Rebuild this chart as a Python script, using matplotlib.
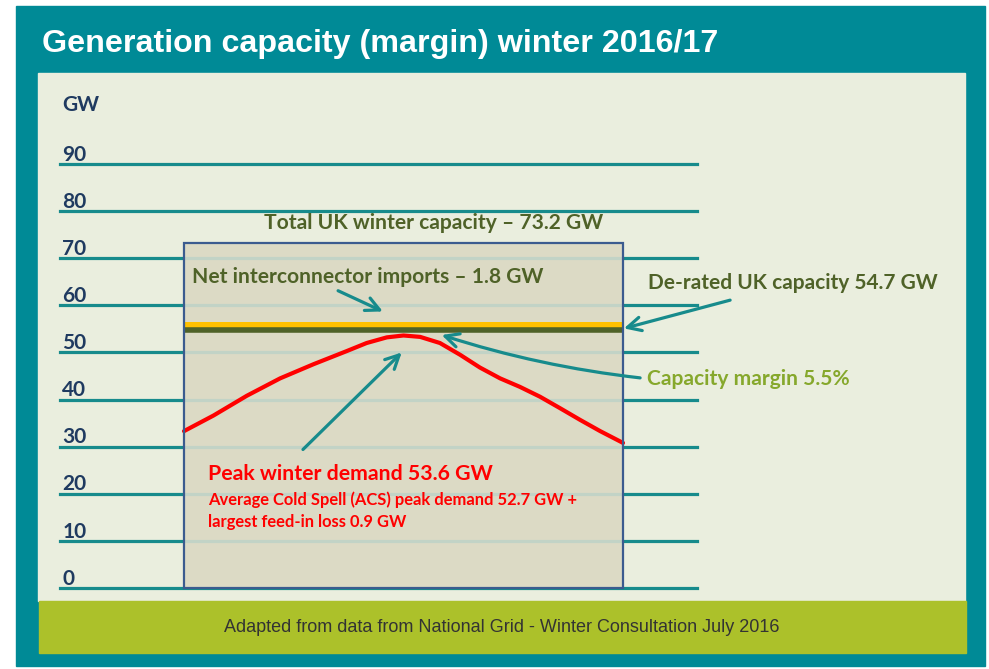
import matplotlib.pyplot as plt
from matplotlib.patches import Rectangle

# capacity figures for winter 2016/17, GW
total_capacity = 73.2
derated_capacity = 54.7
interconnector_imports = 1.8
peak_demand = 53.6
acs_demand = 52.7
feed_in_loss = 0.9
capacity_margin = 5.5

gw_ticks = [0, 10, 20, 30, 40, 50, 60, 70, 80, 90]

# demand profile across the winter (fraction of season, GW)
season = [0.0, 0.067, 0.143, 0.219, 0.295, 0.371, 0.416, 0.462, 0.50, 0.538,
          0.583, 0.629, 0.674, 0.72, 0.765, 0.811, 0.856, 0.902, 0.948, 1.0]
demand = [33.3, 36.6, 40.8, 44.5, 47.5, 50.3, 52.0, 53.2, 53.6, 53.3,
          52.0, 49.5, 46.8, 44.5, 42.7, 40.6, 38.2, 35.7, 33.3, 30.8]

TEAL = '#008a96'
GRID = '#178b8c'
PANEL = '#eaeede'
BAND = '#acc12a'
BOX = '#dcdac5'
NAVY = '#1f3a60'
OLIVE = '#4f6228'
LIME = '#86a82c'
RED = '#ff0000'
LBL = 'Lato'

W, H = 989, 669
fig = plt.figure(figsize=(W / 100, H / 100), dpi=100)
fig.patch.set_facecolor('white')


def frame(x0, y0, x1, y1, color):
    fig.patches.append(Rectangle((x0 / W, 1 - y1 / H), (x1 - x0) / W, (y1 - y0) / H,
                                 transform=fig.transFigure, color=color, zorder=-5))


frame(16, 6, 985, 666, TEAL)
frame(38, 73, 965, 601, PANEL)
frame(39, 601, 966, 653, BAND)

fig.text(42 / W, 1 - 52 / H, 'Generation capacity (margin) winter 2016/17',
         color='white', fontsize=23.2, fontweight='bold', family='Liberation Sans',
         va='baseline')
fig.text(502 / W, 1 - 628 / H,
         'Adapted from data from National Grid - Winter Consultation July 2016',
         color='#333333', fontsize=13, ha='center', va='center', family='Liberation Sans')

# axes: x runs over the winter season (0..1), y in GW
ax = fig.add_axes([60 / W, 1 - 588 / H, 637 / W, (588 - 164) / H])
ax.set_xlim(-124 / 439, 1 + 74 / 439)
ax.set_ylim(0, 90)
ax.axis('off')

for v in gw_ticks:
    ax.axhline(v, color=GRID, lw=2.3, zorder=1, clip_on=False)
    ax.text(-124 / 439 + 0.005, v + 0.7, str(v), color=NAVY, fontsize=15,
            fontweight='bold', family=LBL, va='baseline', ha='left')
ax.text(-124 / 439 + 0.005, 102.5, 'GW', color=NAVY, fontsize=15,
        fontweight='bold', family=LBL, va='center', ha='left')

# total capacity box
ax.add_patch(Rectangle((0, 0), 1, total_capacity, facecolor=BOX, edgecolor='none', zorder=2))
inside = [v for v in gw_ticks if 0 < v < total_capacity]
ax.hlines(inside, 0, 1, color='#c2d3c6', lw=2.3, zorder=3)
ax.add_patch(Rectangle((0, 0), 1, total_capacity, facecolor='none', edgecolor='#3b5b8f',
                       lw=1.6, zorder=6, clip_on=False))

# imports on top of de-rated capacity
ax.fill_between([0, 1], derated_capacity, derated_capacity + interconnector_imports,
                color='#ffc000', lw=0, zorder=4)
ax.plot([0, 1], [derated_capacity, derated_capacity], color=OLIVE, lw=4, zorder=5,
        solid_capstyle='butt')

ax.plot(season, demand, color=RED, lw=3, zorder=5, solid_capstyle='round',
        solid_joinstyle='round')

ax.text(0.568, 77.5, 'Total UK winter capacity \u2013 %.1f GW' % total_capacity,
        color=OLIVE, fontsize=15.1, fontweight='bold', family=LBL, ha='center', va='center')
ax.text(0.018, 66.0, 'Net interconnector imports \u2013 %.1f GW' % interconnector_imports,
        color=OLIVE, fontsize=15.1, fontweight='bold', family=LBL, ha='left', va='center', zorder=7)
ax.text(1.057, 64.8, 'De-rated UK capacity %.1f GW' % derated_capacity,
        color=OLIVE, fontsize=15, fontweight='bold', family=LBL, ha='left', va='center')
ax.text(1.055, 44.4, 'Capacity margin %.1f%%' % capacity_margin,
        color=LIME, fontsize=15.1, fontweight='bold', family=LBL, ha='left', va='center')
ax.text(0.055, 24.2, 'Peak winter demand %.1f GW' % peak_demand,
        color=RED, fontsize=15.3, fontweight='bold', family=LBL, ha='left', va='center', zorder=7)
ax.text(0.055, 18.7, 'Average Cold Spell (ACS) peak demand %.1f GW +' % acs_demand,
        color=RED, fontsize=11.9, fontweight='bold', family=LBL, ha='left', va='center', zorder=7)
ax.text(0.055, 14.0, 'largest feed-in loss %.1f GW' % feed_in_loss,
        color=RED, fontsize=11.9, fontweight='bold', family=LBL, ha='left', va='center', zorder=7)

arrow = dict(arrowstyle='->, head_length=0.7, head_width=0.35', color=GRID, lw=2.3,
             mutation_scale=14, shrinkA=0, shrinkB=0)
ax.annotate('', xy=(0.453, 58.7), xytext=(0.351, 63.1), arrowprops=arrow, zorder=8)
ax.annotate('', xy=(1.002, derated_capacity + 0.4), xytext=(1.244, 61.1), arrowprops=arrow,
            annotation_clip=False, zorder=8)
ax.annotate('', xy=(0.587, 53.7), xytext=(1.039, 44.6),
            arrowprops=dict(arrow, connectionstyle='arc3,rad=-0.05'),
            annotation_clip=False, zorder=8)
ax.annotate('', xy=(0.496, 50.0), xytext=(0.271, 29.4), arrowprops=arrow, zorder=8)

fig.savefig('out.png', dpi=100, facecolor='white')
